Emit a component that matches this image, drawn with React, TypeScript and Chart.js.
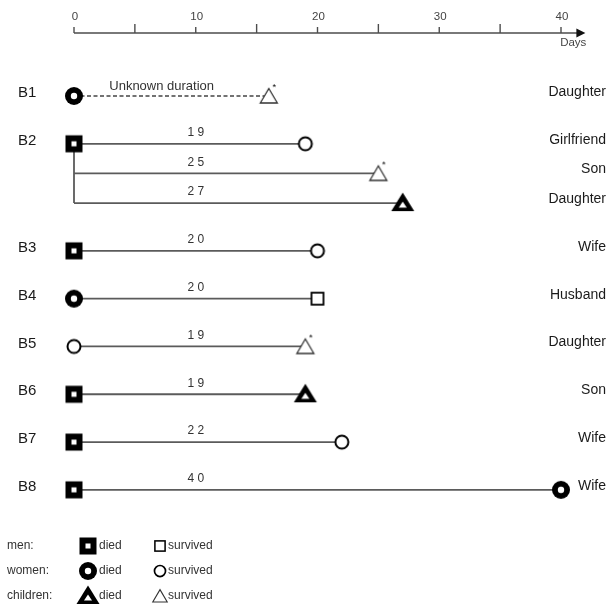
import { useEffect, useRef } from "react";
import { Chart, registerables } from "chart.js";

Chart.register(...registerables);

// ---------------- data ----------------
const subjects = ["B1", "B2", "B3", "B4", "B5", "B6", "B7", "B8"];
const subjectMarkers = ["womanDied", "manDied", "manDied", "womanDied", "womanSurvived", "manDied", "manDied", "manDied"];
const contactSubject = [0, 1, 1, 1, 2, 3, 4, 5, 6, 7];
const contactDays = [16, 19, 25, 27, 20, 20, 19, 19, 22, 40];
const contactDurationKnown = [false, true, true, true, true, true, true, true, true, true];
const contactMarkers = ["childSurvived", "womanSurvived", "childSurvived", "childDied", "womanSurvived", "manSurvived", "childSurvived", "childDied", "womanSurvived", "womanDied"];
const contactAsterisk = [true, false, true, false, false, false, true, false, false, false];
const contactRelations = ["Daughter", "Girlfriend", "Son", "Daughter", "Wife", "Husband", "Daughter", "Son", "Wife", "Wife"];
const axisLabelTicks = [0, 10, 20, 30, 40];
const axisMinorTicks = [5, 15, 25, 35];
const axisEndValue = 42;
const axisTitle = "Days";
const unknownLabel = "Unknown duration";
const legendGroups = ["men:", "women:", "children:"];
const legendDiedMarkers = ["manDied", "womanDied", "childDied"];
const legendSurvivedMarkers = ["manSurvived", "womanSurvived", "childSurvived"];
const legendDiedLabel = "died";
const legendSurvivedLabel = "survived";

// ---------------- layout ----------------
const W = 609;
const H = 605;
const X0_PX = 74;
const PX_PER_DAY = 12.175;
const Y0_PX = 96;
const PX_PER_ROW = 47.8;
const SUB_STEP = 0.62;
const DURATION_LABEL_DAY = 10;
const UNKNOWN_LABEL_DAY = 7.2;
const FONT = '"Liberation Sans", Arial, sans-serif';

const rowY: number[] = [];
{
  let y = 0;
  contactSubject.forEach((s, i) => {
    if (i > 0) y += s === contactSubject[i - 1] ? SUB_STEP : 1;
    rowY.push(y);
  });
}

function drawMarker(ctx: CanvasRenderingContext2D, kind: string, cx: number, cy: number, s = 1) {
  ctx.save();
  ctx.translate(cx, cy);
  ctx.scale(s, s);
  ctx.fillStyle = "#000";
  ctx.strokeStyle = "#000";
  switch (kind) {
    case "manDied":
      ctx.fillRect(-8.5, -8.5, 17, 17);
      ctx.fillStyle = "#fff";
      ctx.fillRect(-2.5, -2.5, 5, 5);
      break;
    case "manSurvived":
      ctx.fillStyle = "#fff";
      ctx.fillRect(-6, -6, 12, 12);
      ctx.lineWidth = 1.8;
      ctx.strokeRect(-6, -6, 12, 12);
      break;
    case "womanDied":
      ctx.beginPath();
      ctx.arc(0, 0, 9, 0, Math.PI * 2);
      ctx.fill();
      ctx.fillStyle = "#fff";
      ctx.beginPath();
      ctx.arc(0, 0, 3.2, 0, Math.PI * 2);
      ctx.fill();
      break;
    case "womanSurvived":
      ctx.fillStyle = "#fff";
      ctx.beginPath();
      ctx.arc(0, 0, 6.5, 0, Math.PI * 2);
      ctx.fill();
      ctx.lineWidth = 2;
      ctx.stroke();
      break;
    case "childDied":
      ctx.beginPath();
      ctx.moveTo(0, -10.5);
      ctx.lineTo(11.5, 8);
      ctx.lineTo(-11.5, 8);
      ctx.closePath();
      ctx.fill();
      ctx.fillStyle = "#fff";
      ctx.beginPath();
      ctx.moveTo(0, -1.5);
      ctx.lineTo(4, 4.5);
      ctx.lineTo(-4, 4.5);
      ctx.closePath();
      ctx.fill();
      break;
    case "childSurvived":
      ctx.fillStyle = "#fff";
      ctx.beginPath();
      ctx.moveTo(0, -7.5);
      ctx.lineTo(8.5, 7);
      ctx.lineTo(-8.5, 7);
      ctx.closePath();
      ctx.fill();
      ctx.lineWidth = 1.3;
      ctx.strokeStyle = "#333";
      ctx.stroke();
      break;
  }
  ctx.restore();
}

function makeMarker(kind: string, asterisk = false): HTMLCanvasElement {
  const c = document.createElement("canvas");
  c.width = 30;
  c.height = 30;
  const g = c.getContext("2d")!;
  drawMarker(g, kind, 15, 15);
  if (asterisk) {
    g.fillStyle = "#000";
    g.font = `9px ${FONT}`;
    g.textAlign = "center";
    g.textBaseline = "middle";
    g.fillText("*", 20.5, 6.5);
  }
  return c;
}

const overlayPlugin = {
  id: "overlay",
  afterDraw(chart: any) {
    const { ctx, scales } = chart;
    const xs = scales.x;
    const ys = scales.y;
    ctx.save();

    // top axis
    const axisY = 33;
    const ax0 = xs.getPixelForValue(0);
    const axEnd = xs.getPixelForValue(axisEndValue);
    ctx.strokeStyle = "#4d4d4d";
    ctx.lineWidth = 1.6;
    ctx.beginPath();
    ctx.moveTo(ax0, axisY);
    ctx.lineTo(axEnd - 6, axisY);
    ctx.stroke();
    ctx.fillStyle = "#111";
    ctx.beginPath();
    ctx.moveTo(axEnd, axisY);
    ctx.lineTo(axEnd - 9, axisY - 4.5);
    ctx.lineTo(axEnd - 9, axisY + 4.5);
    ctx.closePath();
    ctx.fill();
    ctx.lineWidth = 1.4;
    axisMinorTicks.forEach((v) => {
      const px = xs.getPixelForValue(v);
      ctx.beginPath();
      ctx.moveTo(px, axisY);
      ctx.lineTo(px, axisY - 9);
      ctx.stroke();
    });
    ctx.font = `11.5px ${FONT}`;
    ctx.fillStyle = "#444";
    ctx.textAlign = "center";
    ctx.textBaseline = "middle";
    axisLabelTicks.forEach((v) => {
      const px = xs.getPixelForValue(v);
      ctx.beginPath();
      ctx.moveTo(px, axisY);
      ctx.lineTo(px, axisY - 6);
      ctx.stroke();
      ctx.fillText(String(v), px + 1, axisY - 16);
    });
    ctx.textAlign = "right";
    ctx.fillText(axisTitle, axEnd + 1, axisY + 10);

    // subject labels (left)
    ctx.font = `15px ${FONT}`;
    ctx.fillStyle = "#1a1a1a";
    ctx.textAlign = "left";
    subjects.forEach((name, s) => {
      const i = contactSubject.indexOf(s);
      ctx.fillText(name, 18, ys.getPixelForValue(rowY[i]) - 3);
    });

    // relation labels (right)
    ctx.font = `14px ${FONT}`;
    ctx.textAlign = "right";
    contactRelations.forEach((r, i) => {
      ctx.fillText(r, 606, ys.getPixelForValue(rowY[i]) - 4);
    });

    // duration labels
    ctx.fillStyle = "#333";
    ctx.textAlign = "center";
    contactDays.forEach((d, i) => {
      const py = ys.getPixelForValue(rowY[i]);
      if (contactDurationKnown[i]) {
        ctx.font = `12px ${FONT}`;
        ctx.fillText(String(d).split("").join(" "), xs.getPixelForValue(DURATION_LABEL_DAY), py - 11);
      } else {
        ctx.font = `13px ${FONT}`;
        ctx.fillText(unknownLabel, xs.getPixelForValue(UNKNOWN_LABEL_DAY), py - 10);
      }
    });

    // legend
    const legendY = [546, 571, 596];
    legendGroups.forEach((g, k) => {
      const ly = legendY[k];
      ctx.font = `12px ${FONT}`;
      ctx.fillStyle = "#333";
      ctx.textAlign = "left";
      ctx.fillText(g, 7, ly);
      drawMarker(ctx, legendDiedMarkers[k], 88, ly, 1);
      ctx.fillStyle = "#333";
      ctx.fillText(legendDiedLabel, 99, ly);
      drawMarker(ctx, legendSurvivedMarkers[k], 160, ly, 0.85);
      ctx.fillStyle = "#333";
      ctx.fillText(legendSurvivedLabel, 168, ly);
    });

    ctx.restore();
  },
};

export default function App() {
  const ref = useRef<HTMLCanvasElement>(null);

  useEffect(() => {
    const markerCache: Record<string, HTMLCanvasElement> = {};
    const marker = (kind: string, star = false) => {
      const key = kind + (star ? "*" : "");
      if (!markerCache[key]) markerCache[key] = makeMarker(kind, star);
      return markerCache[key];
    };

    const datasets: any[] = [];
    contactDays.forEach((d, i) => {
      const s = contactSubject[i];
      const first = contactSubject.indexOf(s) === i;
      const known = contactDurationKnown[i];
      datasets.push({
        data: [
          { x: 0, y: rowY[i] },
          { x: d, y: rowY[i] },
        ],
        showLine: true,
        borderColor: known ? "#5b5b5b" : "#444",
        borderWidth: known ? 1.8 : 1.3,
        borderDash: known ? [] : [4, 2.5],
        pointStyle: [first ? marker(subjectMarkers[s]) : "circle", marker(contactMarkers[i], contactAsterisk[i])],
        pointRadius: [first ? 6 : 0, 6],
        order: 0,
      });
    });
    // connectors for subjects with several contacts
    subjects.forEach((_, s) => {
      const idx = contactSubject.map((v, i) => (v === s ? i : -1)).filter((i) => i >= 0);
      if (idx.length > 1) {
        datasets.push({
          data: [
            { x: 0, y: rowY[idx[0]] },
            { x: 0, y: rowY[idx[idx.length - 1]] },
          ],
          showLine: true,
          borderColor: "#5b5b5b",
          borderWidth: 1.8,
          pointRadius: 0,
          order: 1,
        });
      }
    });

    const xMin = -X0_PX / PX_PER_DAY;
    const xMax = (W - X0_PX) / PX_PER_DAY;
    const yMin = -Y0_PX / PX_PER_ROW;
    const yMax = (H - Y0_PX) / PX_PER_ROW;

    const chart = new Chart(ref.current!, {
      type: "scatter",
      data: { datasets },
      options: {
        responsive: false,
        animation: false,
        events: [],
        layout: { padding: 0, autoPadding: false },
        plugins: { legend: { display: false }, tooltip: { enabled: false } },
        scales: {
          x: { type: "linear", display: false, min: xMin, max: xMax },
          y: { type: "linear", display: false, reverse: true, min: yMin, max: yMax },
        },
      },
      plugins: [overlayPlugin],
    } as any);
    return () => chart.destroy();
  }, []);

  return (
    <div style={{ position: "absolute", left: 0, top: 0, width: W, height: H, background: "#fff" }}>
      <canvas ref={ref} width={W} height={H} style={{ display: "block" }} />
    </div>
  );
}
